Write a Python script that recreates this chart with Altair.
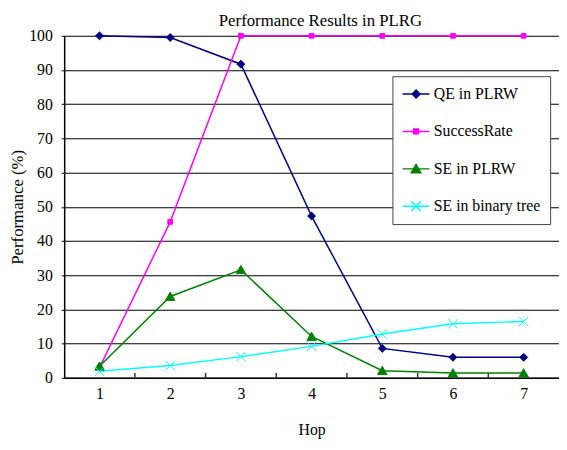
import altair as alt
import pandas as pd

# ---- data ----
hops = [1, 2, 3, 4, 5, 6, 7]
series_names = ["QE in PLRW", "SuccessRate", "SE in PLRW", "SE in binary tree"]
qe_plrw = [100, 99.5, 91.7, 47.3, 8.6, 6.0, 6.0]
success_rate = [3.0, 45.6, 100, 100, 100, 100, 100]
se_plrw = [3.4, 23.8, 31.6, 12.1, 2.1, 1.4, 1.4]
se_binary = [1.9, 3.6, 6.2, 9.2, 12.8, 15.8, 16.5]
y_tick_values = [0, 10, 20, 30, 40, 50, 60, 70, 80, 90, 100]
band_edges = [1.5, 2.5, 3.5, 4.5, 5.5, 6.5]
chart_title = ["Performance Results in PLRG"]

series_colors = ["#000080", "#FF00FF", "#008000", "#00FFFF"]

diamond = "M0,-1L1,0L0,1L-1,0Z"
square = "M-0.6,-0.6H0.6V0.6H-0.6Z"
triangle = "M0,-1.1L1.2,1L-1.2,1Z"
xmark = "M-1.2,-1.2L1.2,1.2M-1.2,1.2L1.2,-1.2"
marker_paths = [diamond, square, triangle, xmark]
legend_line = "M-3.4,0H3.4"
legend_paths = [legend_line + p for p in marker_paths]

rows = []
for name, vals in zip(series_names, [qe_plrw, success_rate, se_plrw, se_binary]):
    for h, v in zip(hops, vals):
        rows.append({"Hop": h, "value": v, "series": name, "Legend": name})
df = pd.DataFrame(rows)
edges_df = pd.DataFrame({"edge": band_edges})
title_df = pd.DataFrame({"title": chart_title})

FONT = "Liberation Serif"

x_enc = alt.X(
    "Hop:Q",
    scale=alt.Scale(domain=[0.5, 7.5], nice=False, zero=False),
    axis=alt.Axis(
        values=hops, format="d", grid=False, ticks=False, tickSize=0,
        labelFont=FONT, labelFontSize=16, labelColor="black", labelPadding=8,
        domainColor="black", domainWidth=1.5,
        title="Hop", titleFont=FONT, titleFontSize=16, titleFontWeight="normal",
        titleColor="black", titleY=57, titleBaseline="alphabetic",
    ),
)
y_enc = alt.Y(
    "value:Q",
    scale=alt.Scale(domain=[0, 100], nice=False),
    axis=alt.Axis(
        values=y_tick_values, grid=True, gridColor="#000000", gridWidth=1.1,
        labelFont=FONT, labelFontSize=16, labelColor="black", labelPadding=9,
        tickSize=3, tickColor="black", domainColor="black", domainWidth=1.5,
        title="Performance (%)", titleFont=FONT, titleFontSize=17,
        titleFontWeight="normal", titleColor="black", titleX=-42,
        titleBaseline="alphabetic",
    ),
)

color_scale = alt.Scale(domain=series_names, range=series_colors)

lines = alt.Chart(df).mark_line(strokeWidth=1.5).encode(
    x=x_enc, y=y_enc,
    color=alt.Color("series:N", scale=color_scale, legend=None),
    order=alt.Order("Hop:Q"),
)

points = alt.Chart(df).mark_point(filled=True, size=64, strokeWidth=1, opacity=1).encode(
    x=x_enc, y=y_enc,
    color=alt.Color("series:N", scale=color_scale, legend=None),
    stroke=alt.Stroke("series:N", scale=color_scale, legend=None),
    shape=alt.Shape("series:N", scale=alt.Scale(domain=series_names, range=marker_paths), legend=None),
)

leg = alt.Legend(
    orient="none", legendX=333, legendY=41, title=None,
    labelFont=FONT, labelFontSize=16, labelColor="black",
    symbolSize=64, symbolStrokeWidth=1.5, symbolOpacity=1,
    padding=10, rowPadding=22, symbolOffset=6, labelOffset=10,
    strokeColor="#444444", fillColor="white", cornerRadius=0,
)
legend_layer = alt.Chart(df).mark_point(filled=True, size=64, opacity=0).encode(
    x=x_enc, y=y_enc,
    color=alt.Color("Legend:N", scale=color_scale, legend=leg),
    stroke=alt.Stroke("Legend:N", scale=color_scale, legend=leg),
    shape=alt.Shape("Legend:N", scale=alt.Scale(domain=series_names, range=legend_paths), legend=leg),
)

ticks = alt.Chart(edges_df).mark_rule(color="#333333", strokeWidth=1.5).encode(
    x=alt.X("edge:Q", scale=alt.Scale(domain=[0.5, 7.5], nice=False, zero=False)),
    y=alt.value(342), y2=alt.value(347),
)

title_layer = alt.Chart(title_df).mark_text(
    font=FONT, fontSize=17, color="black", align="center", baseline="alphabetic", clip=False,
).encode(
    text="title:N", x=alt.value(260), y=alt.value(-10),
)

chart = alt.layer(ticks, lines, points, legend_layer, title_layer).resolve_scale(
    color="independent", shape="independent", stroke="independent"
).properties(
    width=502, height=347,
    autosize=alt.AutoSizeParams(type="none"),
    padding={"left": 57, "top": 25, "right": 0, "bottom": 70},
).configure_view(stroke=None)

chart.save("out.html", embed_options={"renderer": "svg", "actions": False})
